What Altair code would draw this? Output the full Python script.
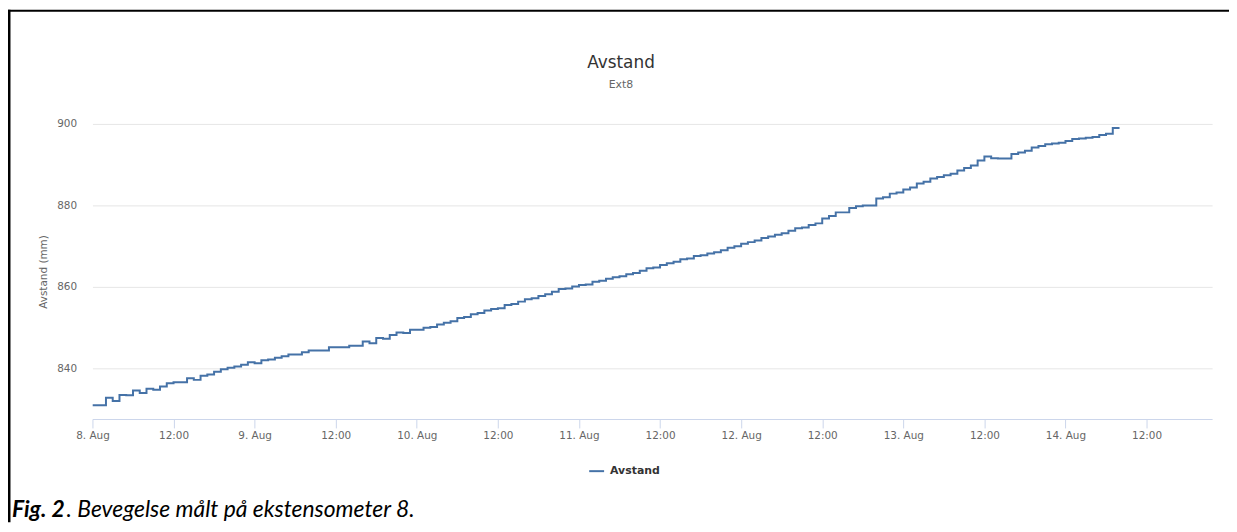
import altair as alt
import pandas as pd

# ---- data ----
hours = list(range(153))  # hours after 8. Aug 00:00
values = [
    831.0, 831.0, 832.8, 832.0, 833.5, 833.4, 834.6, 834.0, 835.0, 834.8,
    835.6, 836.4, 836.6, 836.6, 837.6, 837.2, 838.2, 838.5, 839.2, 839.8,
    840.2, 840.5, 840.9, 841.5, 841.3, 842.0, 842.2, 842.6, 843.0, 843.4,
    843.4, 844.0, 844.4, 844.4, 844.4, 845.2, 845.2, 845.2, 845.6, 845.6,
    846.6, 846.2, 847.5, 847.3, 848.2, 848.8, 848.7, 849.5, 849.5, 850.0,
    850.2, 850.8, 851.2, 851.6, 852.4, 852.6, 853.3, 853.6, 854.2, 854.6,
    854.8, 855.6, 855.8, 856.4, 857.0, 857.2, 857.8, 858.2, 858.8, 859.5,
    859.6, 860.1, 860.5, 860.6, 861.3, 861.5, 862.0, 862.4, 862.6, 863.1,
    863.4, 864.0, 864.6, 864.8, 865.4, 865.8, 866.2, 866.8, 867.0, 867.6,
    867.8, 868.2, 868.5, 869.0, 869.6, 870.0, 870.6, 871.0, 871.4, 872.0,
    872.4, 872.8, 873.2, 873.8, 874.4, 874.6, 875.2, 875.6, 876.8, 877.4,
    878.3, 878.3, 879.4, 879.8, 880.0, 880.0, 881.7, 882.0, 882.9, 883.2,
    883.9, 884.4, 885.4, 885.8, 886.6, 887.0, 887.4, 887.8, 888.6, 889.2,
    889.8, 891.0, 892.0, 891.6, 891.5, 891.5, 892.6, 893.0, 893.4, 894.2,
    894.6, 895.0, 895.2, 895.4, 895.8, 896.3, 896.4, 896.6, 896.8, 897.3,
    897.6, 899.0, 899.0,
]
x_tick_hours = [0, 12, 24, 36, 48, 60, 72, 84, 96, 108, 120, 132, 144, 156]
y_ticks = [840, 860, 880, 900]
series_name = "Avstand"
title_text = "Avstand"
subtitle_text = "Ext8"
y_title = "Avstand (mm)"
caption_bold = "Fig. 2"
caption_rest = ". Bevegelse målt på ekstensometer 8."

start = pd.Timestamp("2016-08-08T00:00:00Z")
def ms(h):
    return int((start + pd.Timedelta(hours=h)).timestamp() * 1000)

df = pd.DataFrame({
    "time": [ms(h) for h in hours],
    "value": values,
    "series": [series_name] * len(values),
})

W, H = 1127, 297
FONT = "DejaVu Sans"

line = alt.Chart(df).mark_line(interpolate="step-after", strokeWidth=2, clip=True).encode(
    x=alt.X(
        "time:T",
        scale=alt.Scale(type="utc", domain=[ms(0), ms(165.7)]),
        axis=alt.Axis(
            title=None,
            values=[ms(h) for h in x_tick_hours],
            labelExpr="utchours(datum.value) == 0 ? utcFormat(datum.value, '%-d. %b') : utcFormat(datum.value, '%H:%M')",
            grid=False,
            domainColor="#ccd6eb",
            tickColor="#ccd6eb",
            tickSize=9,
            labelPadding=3,
            labelFlush=False,
            labelOverlap=False,
            labelColor="#666666",
            labelFontSize=10.5,
            labelFont=FONT,
        ),
    ),
    y=alt.Y(
        "value:Q",
        scale=alt.Scale(domain=[827.6, 900], nice=False, zero=False),
        axis=alt.Axis(
            title=y_title,
            values=y_ticks,
            domain=False,
            ticks=False,
            gridColor="#e6e6e6",
            labelColor="#666666",
            labelFontSize=10.5,
            labelFont=FONT,
            labelPadding=16,
            titleColor="#666666",
            titleFontSize=10.5,
            titleFont=FONT,
            titleFontWeight="normal",
            titlePadding=8,
        ),
    ),
    color=alt.Color(
        "series:N",
        scale=alt.Scale(domain=[series_name], range=["#4572a7"]),
        legend=alt.Legend(
            title=None,
            orient="none",
            legendX=499,
            legendY=341,
            padding=0,
            symbolType="stroke",
            symbolStrokeWidth=2,
            symbolSize=225,
            labelOffset=5,
            labelFont=FONT,
            labelFontSize=11,
            labelFontWeight="bold",
            labelColor="#333333",
        ),
    ),
)

one = pd.DataFrame({"k": [0]})
left_border = alt.Chart(one).mark_rect(color="black").encode(
    x=alt.value(-85), x2=alt.value(-82.5), y=alt.value(-115), y2=alt.value(401)
)
top_border = alt.Chart(one).mark_rect(color="black").encode(
    x=alt.value(-85), x2=alt.value(1144), y=alt.value(-115), y2=alt.value(-113)
)

title_mark = alt.Chart(pd.DataFrame({"t": [title_text]})).mark_text(
    font=FONT, fontSize=17, color="#333333", align="center", baseline="alphabetic",
).encode(text="t:N", x=alt.value(532), y=alt.value(-56))
subtitle_mark = alt.Chart(pd.DataFrame({"t": [subtitle_text]})).mark_text(
    font=FONT, fontSize=11, color="#666666", align="center", baseline="middle",
).encode(text="t:N", x=alt.value(532), y=alt.value(-39))

cap1 = alt.Chart(pd.DataFrame({"t": [caption_bold]})).mark_text(
    font="Lato", fontSize=23, fontStyle="italic", fontWeight="bold",
    align="left", baseline="alphabetic", color="black",
).encode(text="t:N", x=alt.value(-81), y=alt.value(396))
cap2 = alt.Chart(pd.DataFrame({"t": [caption_rest]})).mark_text(
    font="Lato", fontSize=23, fontStyle="italic",
    align="left", baseline="alphabetic", color="black",
).encode(text="t:N", x=alt.value(-26), y=alt.value(396))

chart = alt.layer(
    line, left_border, top_border, title_mark, subtitle_mark, cap1, cap2
).properties(
    width=W,
    height=H,
    padding={"left": 85, "top": 115, "right": 17, "bottom": 104},
    autosize=alt.AutoSizeParams(type="none"),
    background="white",
).configure_view(stroke=None)

chart.save("out.html", embed_options={"renderer": "svg", "actions": False})
